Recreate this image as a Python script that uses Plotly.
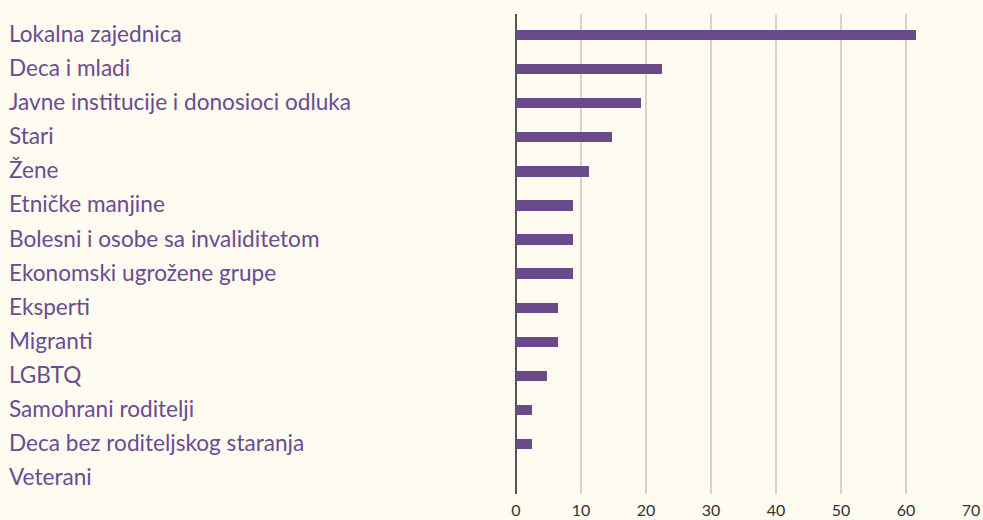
import plotly.graph_objects as go

categories = [
    "Lokalna zajednica",
    "Deca i mladi",
    "Javne institucije i donosioci odluka",
    "Stari",
    "Žene",
    "Etničke manjine",
    "Bolesni i osobe sa invaliditetom",
    "Ekonomski ugrožene grupe",
    "Eksperti",
    "Migranti",
    "LGBTQ",
    "Samohrani roditelji",
    "Deca bez roditeljskog staranja",
    "Veterani",
]
values = [61.5, 22.4, 19.3, 14.7, 11.2, 8.8, 8.8, 8.8, 6.5, 6.5, 4.8, 2.5, 2.5, 0]
tick_vals = [0, 10, 20, 30, 40, 50, 60, 70]

BG = "#fefbf0"
BAR = "#6a4a8b"
TXT = "#6b4b91"

W, H = 983, 520
ML, MR, MT, MB = 516, 12, 14, 26
plot_w = W - ML - MR

fig = go.Figure()
fig.add_trace(go.Bar(
    x=values, y=list(range(len(categories))), orientation="h",
    width=0.3, marker=dict(color=BAR, line=dict(width=0)),
    hoverinfo="skip",
))

for i, c in enumerate(categories):
    fig.add_annotation(
        x=(7 - ML) / plot_w, xref="paper", xanchor="left",
        y=i, yref="y", yanchor="middle", yshift=1.5,
        text=c, showarrow=False,
        font=dict(family="Lato", size=22.6, color=TXT),
    )

fig.update_layout(
    width=W, height=H,
    margin=dict(l=ML, r=MR, t=MT, b=MB, pad=0, autoexpand=False),
    paper_bgcolor=BG, plot_bgcolor=BG,
    showlegend=False,
    bargap=0,
    xaxis=dict(
        range=[0, 70], tickvals=tick_vals, ticktext=[str(v) for v in tick_vals],
        showgrid=True, gridcolor="#d7d3c6", gridwidth=2,
        zeroline=True, zerolinecolor="#555555", zerolinewidth=2,
        showline=False, ticks="", automargin=False, ticklabelstandoff=5,
        tickfont=dict(family="Lato", size=16, color="#333333"),
        fixedrange=True,
    ),
    yaxis=dict(
        range=[13.47, -0.62], showticklabels=False, showgrid=False,
        zeroline=False, showline=False, ticks="", fixedrange=True,
        automargin=False,
    ),
)

fig.write_html(
    "out.html",
    config={"displayModeBar": False},
    post_script="document.body.style.margin='0';document.body.style.overflow='hidden';",
)
